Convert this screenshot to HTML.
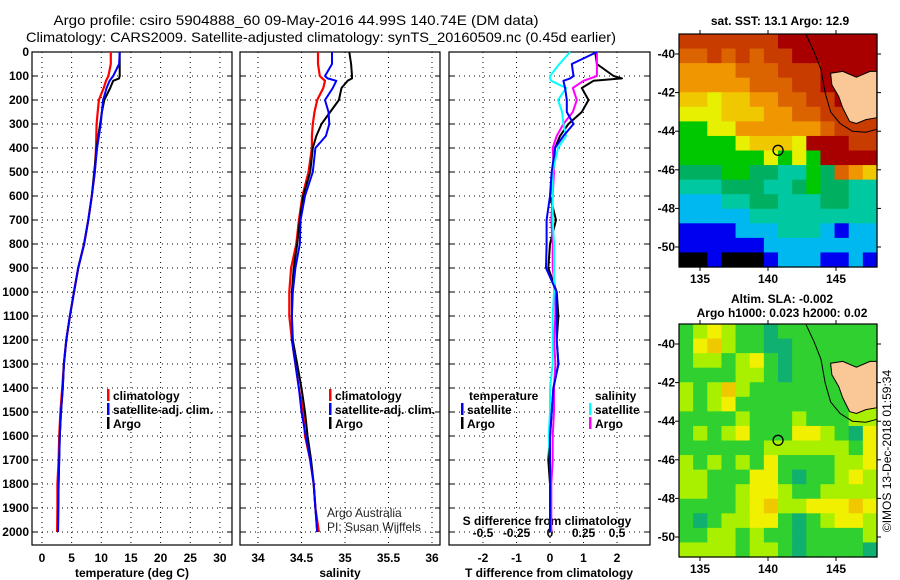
<!DOCTYPE html>
<html><head><meta charset="utf-8">
<style>
html,body{margin:0;padding:0;background:#fff;}
svg{display:block;font-family:"Liberation Sans",sans-serif;}
.b{font-weight:bold;font-size:12px;}
</style></head>
<body>
<svg id="fig" width="900" height="580" viewBox="0 0 900 580" xmlns="http://www.w3.org/2000/svg">
<text x="296" y="25" text-anchor="middle" font-size="14" textLength="485" lengthAdjust="spacingAndGlyphs">Argo profile: csiro 5904888_60 09-May-2016 44.99S 140.74E (DM data)</text>
<text x="321" y="42" text-anchor="middle" font-size="14" textLength="590" lengthAdjust="spacingAndGlyphs">Climatology: CARS2009. Satellite-adjusted climatology: synTS_20160509.nc (0.45d earlier)</text>
<g id="plots"></g>
</svg>
<script>
// ---------- profile data ----------
const depths = [0,50,100,110,120,150,200,250,300,350,400,500,600,700,800,900,1000,1100,1200,1300,1400,1500,1600,1700,1800,1900,2000];
const argoT = [13.1,13.1,13.1,13.0,12.0,11.5,10.5,10.1,9.8,9.5,9.2,8.8,8.4,7.8,7.1,6.1,5.4,4.7,4.1,3.7,3.5,3.2,3.0,2.9,2.8,2.75,2.7];
const climT = [11.6,11.6,11.2,11.0,10.8,10.4,9.6,9.4,9.2,9.15,9.1,8.9,8.4,7.8,7.1,6.1,5.4,4.7,4.1,3.7,3.4,3.1,2.9,2.8,2.6,2.6,2.55];
const satT = [13.1,13.0,12.0,11.7,11.4,10.9,10.3,10.1,9.9,9.6,9.3,8.9,8.4,7.8,7.1,6.1,5.4,4.7,4.1,3.7,3.5,3.2,3.0,2.9,2.8,2.75,2.7];
const argoS = [35.05,35.07,35.08,35.08,35.03,34.96,34.93,34.83,34.73,34.67,34.63,34.60,34.52,34.48,34.45,34.41,34.39,34.39,34.40,34.45,34.50,34.54,34.57,34.61,34.64,34.66,34.68];
const climS = [34.69,34.69,34.71,34.74,34.77,34.75,34.68,34.65,34.63,34.62,34.62,34.58,34.51,34.47,34.44,34.38,34.36,34.36,34.39,34.43,34.47,34.52,34.54,34.60,34.64,34.66,34.70];
const satS = [34.85,34.85,34.77,34.80,34.90,34.86,34.77,34.81,34.82,34.78,34.66,34.63,34.54,34.49,34.48,34.43,34.40,34.39,34.39,34.43,34.47,34.50,34.55,34.60,34.64,34.66,34.68];
const dTargo = [1.35,1.4,1.9,2.15,1.3,0.95,1.15,0.95,0.55,0.3,0.15,0.1,0.0,0.18,0.0,-0.05,0.2,0.25,0.2,0.25,0.1,0.05,0.0,-0.05,0.0,0.0,0.0];
const dTsat = [1.4,0.65,0.7,0.6,0.4,0.45,0.5,0.5,0.7,0.4,0.15,0.05,0.0,-0.1,-0.1,-0.12,0.2,0.2,0.2,0.25,0.1,0.05,0.0,0.0,0.0,0.0,0.0];
const dSsat = [0.15,0.07,0.0,0.0,0.01,0.12,0.06,0.09,0.1,0.12,0.06,0.02,0.02,0.02,0.03,0.03,0.03,0.02,0.02,0.02,0.0,0.0,-0.01,0.0,0.0,0.0,0.0];
const dSargo = [0.35,0.35,0.35,0.3,0.25,0.17,0.2,0.17,0.1,0.05,0.02,0.03,0.02,0.01,0.02,0.02,0.04,0.04,0.03,0.04,0.03,0.03,0.02,0.02,0.01,0.01,0.01];
const depthTicks = [0,100,200,300,400,500,600,700,800,900,1000,1100,1200,1300,1400,1500,1600,1700,1800,1900,2000];
const tempTicks = [0,5,10,15,20,25,30];
const salTicks = [34,34.5,35,35.5,36];
const salTickLabels = ["34","34.5","35","35.5","36"];
const dTTicks = [-2,-1,0,1,2];
const dSTicks = [-0.5,-0.25,0,0.25,0.5];
const dSTickLabels = ["-0.5","-0.25","0","0.25","0.5"];
// ---------- map data ----------
const sstGrid = [
[1,1,1,1,1,1,1,0,0,0,0,0,0,0],
[2,2,1,2,1,2,1,1,0,0,0,0,0,0],
[3,3,3,3,2,2,2,1,1,1,0,0,0,0],
[3,3,3,3,3,2,2,2,1,1,0,0,0,0],
[4,4,5,4,4,3,3,2,2,1,1,0,0,0],
[5,5,5,4,4,4,3,3,2,2,1,1,1,1],
[6,6,5,5,3,3,3,3,3,3,2,1,1,1],
[6,6,6,6,5,4,4,4,5,0,0,0,1,1],
[6,6,6,6,6,6,5,6,5,6,0,0,0,0],
[7,7,7,6,6,7,7,8,8,6,7,2,3,4],
[8,8,8,7,7,7,8,8,7,6,7,7,8,8],
[9,9,9,8,8,7,7,8,8,8,7,7,8,8],
[9,9,9,9,9,8,8,8,8,8,8,8,8,8],
[10,10,10,10,9,9,9,8,8,8,9,10,9,9],
[10,10,10,10,10,10,9,9,9,9,9,9,9,9],
[11,11,10,11,11,11,10,9,9,9,10,10,9,10]];
const slaGrid = [
[1,2,3,2,1,1,0,1,1,1,1,1,1,1],
[1,3,4,2,1,1,0,0,1,1,1,1,1,1],
[1,2,2,1,2,3,1,0,1,1,1,1,1,1],
[1,1,1,1,2,2,1,0,1,1,1,1,1,1],
[2,1,2,4,2,1,1,1,1,1,1,1,1,1],
[2,1,2,3,1,1,1,1,1,1,1,1,2,2],
[1,1,1,1,2,1,1,1,2,1,1,1,2,2],
[1,2,1,2,3,1,1,1,3,3,2,1,0,3],
[1,1,1,1,1,1,2,2,2,2,2,2,1,3],
[2,1,2,1,2,1,3,1,1,1,1,2,2,3],
[2,2,1,1,1,3,3,1,0,1,1,2,3,2],
[2,2,1,1,2,3,3,2,1,1,2,2,2,2],
[1,1,1,1,2,3,4,2,2,3,3,3,4,3],
[1,0,1,2,2,3,3,1,0,1,2,3,3,2],
[1,1,2,2,1,2,1,1,0,1,1,1,1,2],
[2,2,2,2,1,2,2,1,0,1,1,1,1,0]];
const lonTicks = [135,140,145];
const latTicks = [-40,-42,-44,-46,-48,-50];
const tasLon = [144.6,145.5,146.5,147.5,148.0,148.0,147.2,146.5,146.0,145.5,145.2,144.7];
const tasLat = [-41.0,-40.9,-41.2,-40.9,-40.9,-43.3,-43.4,-43.6,-43.5,-42.8,-42.2,-41.6];
const coastLon = [142.8,143.4,143.9,144.2,144.6,145.3,146.2,147.2,148.0];
const coastLat = [-39.0,-39.9,-40.8,-42.0,-43.0,-43.6,-44.0,-44.05,-43.9];
const argoLon = 140.74, argoLat = -44.99;

const NS = "http://www.w3.org/2000/svg";
const root = document.getElementById('plots');
function mk(tag, attrs, parent){ const e=document.createElementNS(NS,tag); for(const k in attrs) e.setAttribute(k,attrs[k]); (parent||root).appendChild(e); return e; }
function txt(x,y,s,attrs,parent){ const e=mk('text',Object.assign({x:x,y:y},attrs||{}),parent); e.textContent=s; return e; }

const PT=52, PB=545;
const yD = d => PT + d*0.24;
const panels = [
 {name:'temperature', x0:32, x1:232, xs:v=>42+v*5.93},
 {name:'salinity', x0:240, x1:440, xs:v=>258+(v-34)*87},
 {name:'difference', x0:449, x1:650, xs:v=>550+v*33.5}
];
const xSd = v => 550 + v*134;

panels.forEach((p,pi)=>{
  const g = mk('g',{});
  
  
  depthTicks.forEach(d=>{
    if(d>0){ const l=mk('line',{x1:p.x0,x2:p.x1,y1:yD(d),y2:yD(d),stroke:'#000','stroke-width':1,'stroke-dasharray':'1,4'},g);
        }
    mk('line',{x1:p.x0,x2:p.x0+5,y1:yD(d),y2:yD(d),stroke:'#000'},g);
    mk('line',{x1:p.x1-5,x2:p.x1,y1:yD(d),y2:yD(d),stroke:'#000'},g);
  });
  const vt = pi===0?tempTicks:(pi===1?salTicks:dTTicks);
  vt.forEach((v,i)=>{
    const x=p.xs(v);
    const l=mk('line',{x1:x,x2:x,y1:PT,y2:PB,stroke:'#000','stroke-width':1,'stroke-dasharray':'1,4'},g);
     
    const t=txt(x,562,pi===1?salTickLabels[i]:String(v),{'text-anchor':'middle',class:'b'},g);
     
  });
  const fr=mk('rect',{x:p.x0,y:PT,width:p.x1-p.x0,height:PB-PT,fill:'none',stroke:'#000','stroke-width':1.2},g);
   
});
depthTicks.forEach(d=>{ const t=txt(29,yD(d)+4,String(d),{'text-anchor':'end',class:'b'});
    });
[[132,'temperature (deg C)'],[340,'salinity'],[549,'T difference from climatology']].forEach(a=>{
  const t=txt(a[0],577,a[1],{'text-anchor':'middle',class:'b'});
    });
dSTicks.forEach((v,i)=>{ const t=txt(xSd(v),537,dSTickLabels[i],{'text-anchor':'middle',class:'b'});
    });
{const t=txt(547,525,'S difference from climatology',{'text-anchor':'middle',class:'b'});
  }

function line(vals, xs, color, name, w){
  const pts = vals.map((v,i)=>xs(v).toFixed(1)+','+yD(depths[i]).toFixed(1)).join(' ');
  const l = mk('polyline',{points:pts,fill:'none',stroke:color,'stroke-width':w||2,'stroke-linejoin':'round'});
  
  
}
const xT=panels[0].xs, xS=panels[1].xs, xD=panels[2].xs;
line(climT,xT,'#f00','temp-climatology-line',2.2);
line(argoT,xT,'#000','temp-argo-line',2);
line(satT,xT,'#00f','temp-satellite-line',2);
line(climS,xS,'#f00','sal-climatology-line',2.2);
line(argoS,xS,'#000','sal-argo-line',2);
line(satS,xS,'#00f','sal-satellite-line',2);
line(dTargo,xD,'#000','tdiff-argo-line',2);
line(dSargo,xSd,'#f0f','sdiff-argo-line',2);
line(dSsat,xSd,'#0ff','sdiff-satellite-line',2);
line(dTsat,xD,'#00f','tdiff-satellite-line',2);

function legend(x,y,color,label,name){
  const g=mk('g',{});
  
  
  mk('rect',{x:x,y:y-9,width:2.5,height:12,fill:color},g);
  txt(x+6,y+2,label,{class:'b'},g);
}
legend(107,398,'#f00','climatology','legend-temp-climatology');
legend(107,412,'#00f','satellite-adj. clim.','legend-temp-satellite');
legend(107,426,'#000','Argo','legend-temp-argo');
legend(329,398,'#f00','climatology','legend-sal-climatology');
legend(329,412,'#00f','satellite-adj. clim.','legend-sal-satellite');
legend(329,426,'#000','Argo','legend-sal-argo');
{const t=txt(469,400,'temperature',{class:'b'});  }
{const t=txt(595,400,'salinity',{class:'b'});  }
legend(461,412,'#00f','satellite','legend-tdiff-satellite');
legend(461,426,'#000','Argo','legend-tdiff-argo');
legend(589,412,'#0ff','satellite','legend-sdiff-satellite');
legend(589,426,'#f0f','Argo','legend-sdiff-argo');
{const t=txt(327,517,'Argo Australia',{'font-size':12,fill:'#222'});  }
{const t=txt(327,531,'PI: Susan Wijffels',{'font-size':12,fill:'#222'});  }

const sstColors=['#a80000','#c83c00','#dc6400','#f09600','#f0c800','#e6f000','#00c800','#00b060','#00c8a0','#00b8f0','#0000f0','#000000'];
const slaColors=['#10b070','#30d030','#a8f000','#f0f000','#f0c800'];
const MX0=679, MX1=877;
const lonX = lon => 700 + (lon-135)*13.6;
function drawMap(oy, grid, colors, name, title1, title2){
  const latY = lat => oy + 54 + (-40-lat)*19.3;
  const MY0=oy+34, MY1=oy+267;
  const g=mk('g',{});
  
  
  const rows=grid.length, cols=grid[0].length;
  const cw=(MX1-MX0)/cols, ch=(MY1-MY0)/rows;
  grid.forEach((r,ri)=>r.forEach((c,ci)=>{
    const cell=mk('rect',{x:(MX0+ci*cw).toFixed(2),y:(MY0+ri*ch).toFixed(2),width:(cw+0.6).toFixed(2),height:(ch+0.6).toFixed(2),fill:colors[c]},g);
    
    
  }));
  const land=mk('polygon',{points:tasLon.map((v,i)=>lonX(v).toFixed(1)+','+latY(tasLat[i]).toFixed(1)).join(' '),fill:'#fac896',stroke:'#000','stroke-width':1},g);
  
  
  const cst=mk('polyline',{points:coastLon.map((v,i)=>lonX(v).toFixed(1)+','+latY(coastLat[i]).toFixed(1)).join(' '),fill:'none',stroke:'#000','stroke-width':1},g);
  
  
  const mk1=mk('circle',{cx:lonX(argoLon),cy:latY(argoLat),r:5,fill:'none',stroke:'#000','stroke-width':1.3},g);
  
  
  mk('rect',{x:MX0,y:MY0,width:MX1-MX0,height:MY1-MY0,fill:'none',stroke:'#000','stroke-width':1.2},g);
  latTicks.forEach(l=>{
    const y=latY(l);
    mk('line',{x1:MX0-4,x2:MX0,y1:y,y2:y,stroke:'#000'},g);
    mk('line',{x1:MX1,x2:MX1+4,y1:y,y2:y,stroke:'#000'},g);
    const t=txt(MX0-4,y+4,String(l),{'text-anchor':'end',class:'b'},g);
     
  });
  lonTicks.forEach(l=>{
    const x=lonX(l);
    mk('line',{x1:x,x2:x,y1:MY0-4,y2:MY0,stroke:'#000'},g);
    mk('line',{x1:x,x2:x,y1:MY1,y2:MY1+4,stroke:'#000'},g);
    const t=txt(x,MY1+16,String(l),{'text-anchor':'middle',class:'b'},g);
     
  });
  if(title2){
    const t=txt(782,oy+13,title1,{'text-anchor':'middle',class:'b'},g);  
    const t2=txt(782,oy+27,title2,{'text-anchor':'middle',class:'b'},g);  
  } else {
    const t=txt(780,oy+25,title1,{'text-anchor':'middle',class:'b'},g);  
  }
}
drawMap(0, sstGrid, sstColors, 'sst-map', 'sat. SST: 13.1 Argo: 12.9');
drawMap(290, slaGrid, slaColors, 'sla-map', 'Altim. SLA: -0.002', 'Argo h1000: 0.023 h2000: 0.02');
{const t=txt(0,0,'©IMOS 13-Dec-2018 01:59:34',{'font-size':12,transform:'translate(891,451) rotate(-90)','text-anchor':'middle'});
  }
</script>
</body></html>
